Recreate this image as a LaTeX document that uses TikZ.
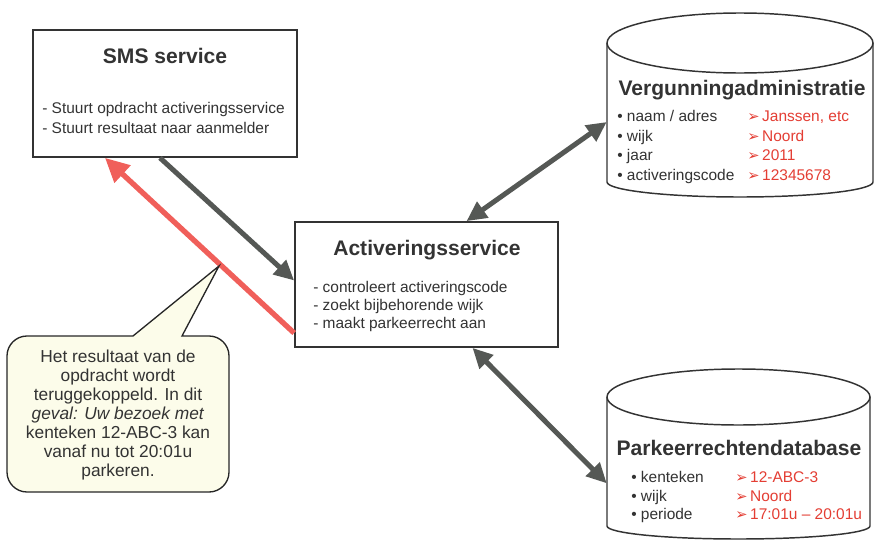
\documentclass[tikz,border=0pt]{standalone}
\usepackage{fontspec}
\setmainfont{Liberation Sans}
\newfontfamily\dingfont{DejaVu Sans}
\usetikzlibrary{arrows.meta,fit}

\definecolor{inkgray}{RGB}{51,51,51}
\definecolor{arrowgray}{RGB}{85,88,85}
\definecolor{backred}{RGB}{240,95,90}
\definecolor{valred}{RGB}{228,62,52}
\definecolor{notefill}{RGB}{252,252,234}

\newcommand\valmark{{\dingfont\fontsize{11}{12}\selectfont ➢}\hspace{2pt}}

\tikzset{
  servicebox/.style={draw=inkgray, line width=1.3pt, fill=white, inner sep=0pt},
  dbshape/.style={draw=inkgray, line width=1.1pt, fill=white},
  boxtitle/.style={font=\fontsize{15.8}{19}\selectfont\bfseries, text=inkgray, inner sep=0pt, anchor=base},
  boxline/.style={font=\fontsize{11.6}{14}\selectfont, text=inkgray, inner sep=0pt, anchor=base west},
  dbvalue/.style={boxline, text=valred},
  flow/.style={draw=arrowgray, line width=3.75pt, -{Triangle[length=15pt,width=14pt]}},
  sync/.style={flow, {Triangle[length=15pt,width=14pt]}-{Triangle[length=15pt,width=14pt]}},
  reply/.style={draw=backred, line width=4pt, -{Triangle[length=18pt,width=17pt]}},
  note/.style={draw=black!85, line width=1pt, fill=notefill}
}

\begin{document}
\begin{tikzpicture}[x=0.75pt, y=-0.75pt]
    \useasboundingbox (0,0) rectangle (878,546);

    % SMS service box
    \node[servicebox, minimum width=198pt, minimum height=95.25pt] (sms) at (165,93.5) {};
    \node[boxtitle] (smstitle) at (165,63) {SMS service};
    \node[boxline] (smsa) at (42,113) {- Stuurt opdracht activeringsservice};
    \node[boxline] (smsb) at (42,133) {- Stuurt resultaat naar aanmelder};

    % Activeringsservice box
    \node[servicebox, minimum width=197.25pt, minimum height=93.75pt] (act) at (426.5,284.5) {};
    \node[boxtitle] (acttitle) at (427,255) {Activeringsservice};
    \node[boxline] (acta) at (313,292) {- controleert activeringscode};
    \node[boxline] (actb) at (313,310) {- zoekt bijbehorende wijk};
    \node[boxline] (actc) at (313,328) {- maakt parkeerrecht aan};

    % Vergunningadministratie database
    \draw[dbshape] (607,43) -- (607,182) arc[start angle=180, end angle=0, x radius=133, y radius=15] -- (873,43);
    \draw[dbshape] (740,43) ellipse [x radius=133, y radius=30];
    \node[fit={(607,13) (873,197)}, inner sep=0pt] (verg) {};
    \node[boxtitle] (vergtitle) at (742,95) {Vergunningadministratie};
    \node[boxline] (verga) at (617,121.5) {\textbullet\ naam / adres};
    \node[boxline] (vergb) at (617,141) {\textbullet\ wijk};
    \node[boxline] (vergc) at (617,160.5) {\textbullet\ jaar};
    \node[boxline] (vergd) at (617,180) {\textbullet\ activeringscode};
    \node[dbvalue] (vergva) at (747,121.5) {\valmark Janssen, etc};
    \node[dbvalue] (vergvb) at (747,141) {\valmark Noord};
    \node[dbvalue] (vergvc) at (747,160.5) {\valmark 2011};
    \node[dbvalue] (vergvd) at (747,180) {\valmark 12345678};

    % Parkeerrechtendatabase
    \draw[dbshape] (607,397) -- (607,526) arc[start angle=180, end angle=0, x radius=131.5, y radius=13] -- (870,397);
    \draw[dbshape] (738.5,397) ellipse [x radius=131.5, y radius=28];
    \node[fit={(607,369) (870,539)}, inner sep=0pt] (park) {};
    \node[boxtitle] (parktitle) at (739,455) {Parkeerrechtendatabase};
    \node[boxline] (parka) at (631,482) {\textbullet\ kenteken};
    \node[boxline] (parkb) at (631,501) {\textbullet\ wijk};
    \node[boxline] (parkc) at (631,519) {\textbullet\ periode};
    \node[dbvalue] (parkva) at (735,482) {\valmark 12-ABC-3};
    \node[dbvalue] (parkvb) at (735,501) {\valmark Noord};
    \node[dbvalue] (parkvc) at (735,519) {\valmark 17:01u -- 20:01u};

    % Connectors
    \draw[flow] ([xshift=-3.75pt]sms.south) -- ([yshift=3pt]act.west);
    \draw[reply] ([yshift=-36.4pt]act.west) -- ([xshift=-45pt]sms.south);
    \draw[sync] ([xshift=30pt]act.north) -- ([yshift=-12.75pt]verg.west);
    \draw[sync] ([xshift=34.5pt]act.south) -- ([yshift=-22pt]park.west);

    % Callout with result
    \draw[note] (133,336) -- (219,266) -- (182,336) -- (209,336)
        arc[start angle=270, end angle=360, radius=20] -- (229,472)
        arc[start angle=0, end angle=90, radius=20] -- (27,492)
        arc[start angle=90, end angle=180, radius=20] -- (7,356)
        arc[start angle=180, end angle=270, radius=20] -- cycle;
    \node[align=center, font=\fontsize{13}{14.3}\selectfont, text=inkgray, inner sep=0pt] (notetext) at (118,415)
        {Het resultaat van de\\ opdracht wordt\\ teruggekoppeld. In dit\\ \textit{geval: Uw bezoek met}\\ kenteken 12-ABC-3 kan\\ vanaf nu tot 20:01u\\ parkeren.};
\end{tikzpicture}
\end{document}
